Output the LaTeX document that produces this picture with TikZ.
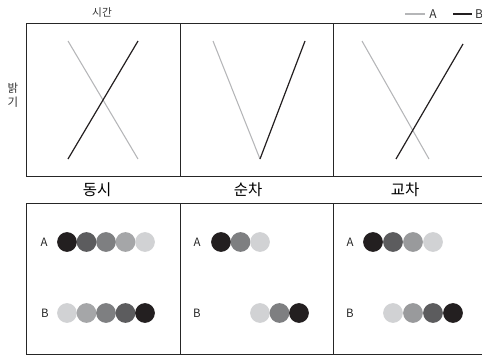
\documentclass[tikz,border=0pt]{standalone}
\usepackage{fontspec}
\setmainfont{Noto Sans CJK KR}
\usetikzlibrary{positioning}
\definecolor{shadeA}{HTML}{231F20}
\definecolor{shadeB}{HTML}{5C5C5E}
\definecolor{shadeC}{HTML}{7E7F81}
\definecolor{shadeD}{HTML}{A5A6A8}
\definecolor{shadeE}{HTML}{D1D2D4}
\definecolor{shadeM}{HTML}{999A9C}
\definecolor{lightln}{HTML}{B5B6B8}
\definecolor{darkln}{HTML}{231F20}

\begin{document}
\begin{tikzpicture}[
  x=0.75pt, y=-0.75pt,
  frame/.style={draw=black!85, line width=0.75pt},
  lineA/.style={draw=lightln, line width=0.8pt},
  lineB/.style={draw=darkln, line width=0.9pt},
  dot/.style={circle, inner sep=0pt, minimum size=14.8pt},
  small/.style={font=\fontsize{8}{9}\selectfont, text=black!80, inner sep=0pt},
  rowlbl/.style={font=\fontsize{8.6}{9}\selectfont, text=black!85, inner sep=0pt},
  title/.style={font=\fontsize{11.6}{13}\selectfont, inner sep=0pt}
]
\useasboundingbox (0,0) rectangle (482,357);

% axes labels and legend
\node[small] (time) at (102,13) {시간};
\node[small, font=\fontsize{8.6}{10.5}\selectfont, align=center] (bright) at (13,95) {밝\\기};
\coordinate (legA0) at (405,14);
\coordinate (legA1) at (425,14);
\coordinate (legB0) at (453,14);
\coordinate (legB1) at (472,14);
\draw[lineA] (legA0) -- (legA1);
\draw[lineB] (legB0) -- (legB1);
\node[small, font=\fontsize{9}{10}\selectfont] (legA) at (433,14) {A};
\node[small, font=\fontsize{9}{10}\selectfont] (legB) at (479,14) {B};

% upper panel: brightness over time
\draw[frame] (26,23) rectangle (486,176);
\draw[frame] (180,23) -- (180,176) (333,23) -- (333,176);

% simultaneous
\coordinate (s-a0) at (68,41);  \coordinate (s-a1) at (138,159);
\coordinate (s-b0) at (68,159); \coordinate (s-b1) at (138,41);
\draw[lineA] (s-a0) -- (s-a1);
\draw[lineB] (s-b0) -- (s-b1);

% sequential
\coordinate (q-a0) at (213,41);  \coordinate (q-mid) at (260,159);
\coordinate (q-b1) at (305,41);
\draw[lineA] (q-a0) -- (q-mid);
\draw[lineB] (q-mid) -- (q-b1);

% crossing
\coordinate (c-a0) at (362,41);  \coordinate (c-a1) at (429,159);
\coordinate (c-b0) at (396,159); \coordinate (c-b1) at (463,44);
\draw[lineA] (c-a0) -- (c-a1);
\draw[lineB] (c-b0) -- (c-b1);

% titles
\node[title] (t-sim) at (97,190) {동시};
\node[title] (t-seq) at (248,190) {순차};
\node[title] (t-cro) at (405,190) {교차};

% lower panel: dot sequences
\draw[frame] (26,203) rectangle (486,354);
\draw[frame] (180,203) -- (180,354) (333,203) -- (333,354);

\foreach \x/\y in {44/242, 197/242, 350/242}
  \node[rowlbl] at (\x,\y) {A};
\foreach \x/\y in {45/313, 197/313, 350/313}
  \node[rowlbl] at (\x,\y) {B};

\foreach \c [count=\i] in {shadeA,shadeB,shadeC,shadeD,shadeE}
  \node[dot, fill=\c] (sa-\i) at ({67+19.5*(\i-1)},242) {};
\foreach \c [count=\i] in {shadeE,shadeD,shadeC,shadeB,shadeA}
  \node[dot, fill=\c] (sb-\i) at ({67+19.5*(\i-1)},313) {};

\foreach \c [count=\i] in {shadeA,shadeC,shadeE}
  \node[dot, fill=\c] (qa-\i) at ({221+19.5*(\i-1)},242) {};
\foreach \c [count=\i] in {shadeE,shadeC,shadeA}
  \node[dot, fill=\c] (qb-\i) at ({260+19.5*(\i-1)},313) {};

\foreach \c [count=\i] in {shadeA,shadeB,shadeM,shadeE}
  \node[dot, fill=\c] (ca-\i) at ({373+20*(\i-1)},242) {};
\foreach \c [count=\i] in {shadeE,shadeM,shadeB,shadeA}
  \node[dot, fill=\c] (cb-\i) at ({393+20*(\i-1)},313) {};
\end{tikzpicture}
\end{document}
